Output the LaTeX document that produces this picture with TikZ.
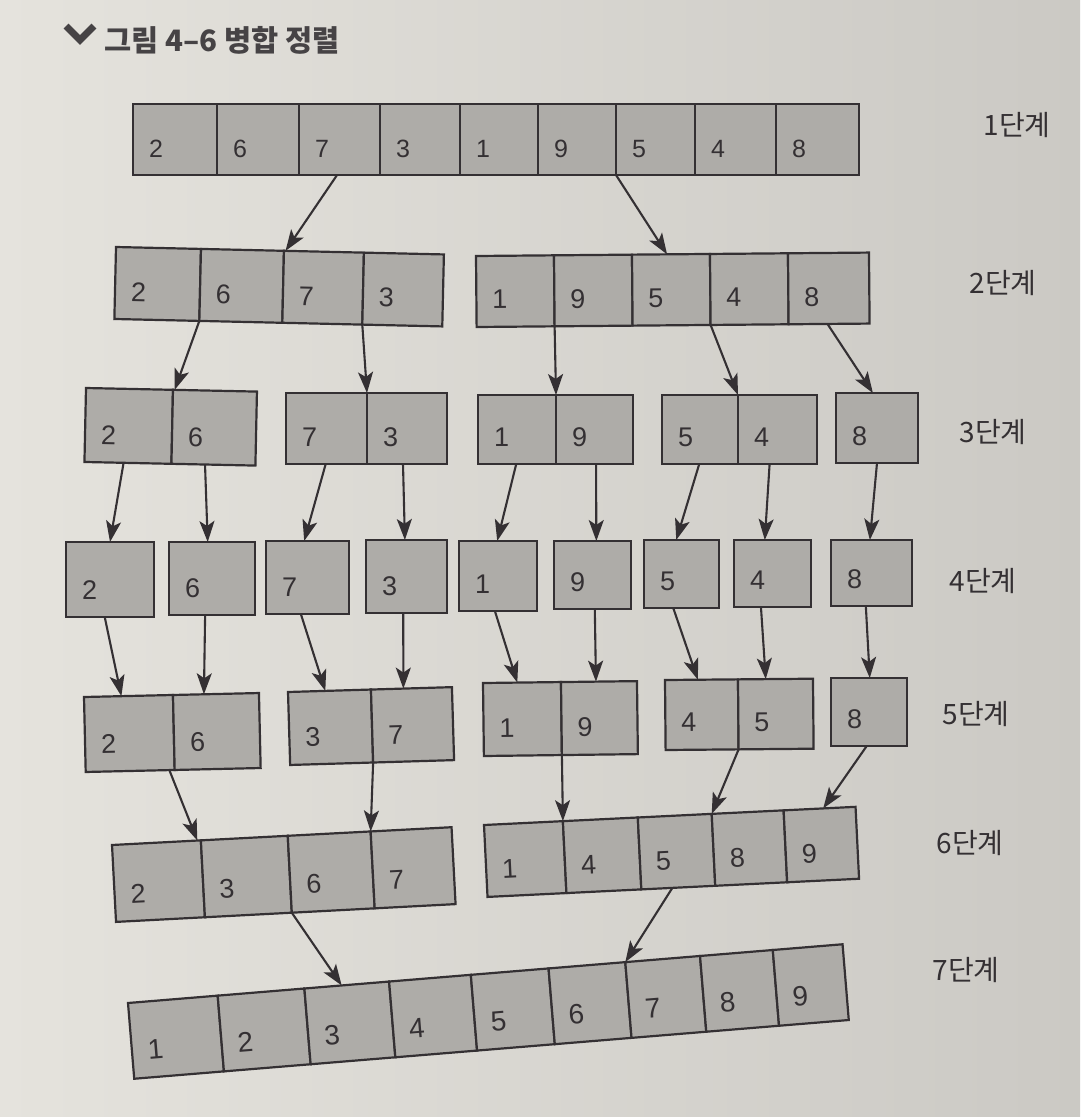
\documentclass[tikz,border=0pt]{standalone}
\usepackage{fontspec}
\setmainfont{Liberation Sans}
\newfontfamily\kr{Noto Sans CJK KR}
\usetikzlibrary{arrows.meta,calc}
\definecolor{ink}{RGB}{52,48,51}
\definecolor{cellfill}{RGB}{174,172,168}
\definecolor{paperL}{RGB}{229,227,221}
\definecolor{paperR}{RGB}{203,201,196}
\definecolor{titleink}{RGB}{70,67,69}
\tikzset{
  cell/.style={draw=ink, fill=cellfill, line width=2.2pt, inner sep=0pt, outer sep=0pt,
    font=\fontsize{27}{31}\selectfont, text=ink},
  arr/.style={draw=ink, line width=2.1pt, -{Stealth[length=21pt,width=15pt,inset=5pt]}},
  steplabel/.style={font=\kr\fontsize{28}{32}\selectfont, text=ink, inner sep=0pt},
}
% #1 extra style, #2 name, #3 x, #4 y (top-left), #5 angle, #6 height, #7 list width/number
\newcommand\grp[7][]{%
  \foreach \cw/\cn [count=\ci] in {#7} {%
    \pgfmathtruncatemacro\cj{\ci-1}%
    \pgfmathsetmacro\ctw{\cw-32}%
    \pgfmathsetmacro\cth{#6-18}%
    \ifnum\ci=1
      \node[cell, #1, rotate=#5, minimum width=\cw pt, minimum height=#6 pt,
        text height=\cth pt, text depth=18pt, anchor=north west] (#2-\ci) at (#3,#4)
        {\makebox[\ctw pt][l]{\cn}};
    \else
      \node[cell, #1, rotate=#5, minimum width=\cw pt, minimum height=#6 pt,
        text height=\cth pt, text depth=18pt, anchor=west] (#2-\ci) at (#2-\cj.east)
        {\makebox[\ctw pt][l]{\cn}};
    \fi
  }%
}
\newcommand\conn[4]{\draw[arr] ($(#1.south west)!#2!(#1.south east)$) -- ($(#3.north west)!#4!(#3.north east)$);}
\begin{document}
\begin{tikzpicture}[x=1pt,y=-1pt]
\shade[left color=paperL, right color=paperR] (0,0) rectangle (1080,1117);
\useasboundingbox (0,0) rectangle (1080,1117);

% title
\draw[titleink, line width=7pt, line join=miter] (66,26) -- (80,40) -- (94,26);
\node[anchor=west, font=\kr\bfseries\fontsize{29.5}{33}\selectfont, text=titleink, inner sep=0pt] (title) at (104,40) {그림 4–6 병합 정렬};

% row 1
\grp[font=\fontsize{25}{29}\selectfont]{r1}{133}{104}{0}{71}{84/2,82/6,81/7,80/3,78/1,78/9,79/5,81/4,83/8}
% row 2
\grp{r2a}{116}{247}{-1.3}{72}{85/2,83/6,80/7,80/3}
\grp{r2b}{476}{256}{0.5}{71}{78/1,78/9,78/5,78/4,81/8}
% row 3
\grp{r3a}{86}{388}{-1.2}{74}{87/2,84/6}
\grp{r3b}{286}{393}{0}{71}{81/7,80/3}
\grp{r3c}{478}{395}{0}{69}{78/1,77/9}
\grp{r3d}{662}{395}{0}{69}{76/5,79/4}
\grp{r3e}{836}{393}{0}{70}{82/8}
% row 4
\grp{r4a}{66}{542}{0}{75}{88/2}
\grp{r4b}{169}{542}{0}{73}{86/6}
\grp{r4c}{266}{541}{0}{73}{83/7}
\grp{r4d}{366}{540}{0}{73}{81/3}
\grp{r4e}{459}{541}{0}{70}{78/1}
\grp{r4f}{554}{541}{0}{68}{77/9}
\grp{r4g}{644}{540}{0}{68}{75/5}
\grp{r4h}{734}{540}{0}{67}{77/4}
\grp{r4i}{831}{540}{0}{66}{81/8}
% row 5
\grp{r5a}{84}{697}{1.3}{75}{89/2,86/6}
\grp{r5b}{288}{692}{1.7}{73}{83/3,81/7}
\grp{r5c}{483}{683}{0.7}{73}{78/1,76/9}
\grp{r5d}{665}{680}{0.5}{70}{73/4,75/5}
\grp{r5e}{831}{678}{0}{68}{76/8}
% row 6
\grp{r6a}{112}{845}{3.0}{77}{89/2,87/3,83/6,81/7}
\grp{r6b}{484}{825}{2.8}{72}{79/1,75/4,74/5,72/8,72/9}
% row 7
\grp[font=\fontsize{28}{32}\selectfont]{r7}{128}{1003}{4.7}{76}{90/1,87/2,85/3,82/4,78/5,77/6,75/7,73/8,70/9}

% step labels
\node[steplabel] (s1) at (1017,125) {1단계};
\node[steplabel] (s2) at (1003,283) {2단계};
\node[steplabel] (s3) at (993,432) {3단계};
\node[steplabel] (s4) at (983,581) {4단계};
\node[steplabel] (s5) at (976,714) {5단계};
\node[steplabel] (s6) at (970,843) {6단계};
\node[steplabel] (s7) at (966,970) {7단계};

% arrows
\conn{r1-3}{0.47}{r2a-3}{0.02}
\conn{r1-7}{0}{r2b-3}{0.45}
\conn{r2a-2}{0}{r3a-2}{0.02}
\conn{r2a-4}{0}{r3b-2}{0}
\conn{r2b-2}{0}{r3c-2}{0}
\conn{r2b-4}{0}{r3d-2}{0}
\conn{r2b-5}{0.48}{r3e-1}{0.45}
\conn{r3a-1}{0.45}{r4a-1}{0.5}
\conn{r3a-2}{0.4}{r4b-1}{0.45}
\conn{r3b-1}{0.49}{r4c-1}{0.46}
\conn{r3b-2}{0.45}{r4d-1}{0.48}
\conn{r3c-1}{0.49}{r4e-1}{0.49}
\conn{r3c-2}{0.52}{r4f-1}{0.55}
\conn{r3d-1}{0.49}{r4g-1}{0.43}
\conn{r3d-2}{0.4}{r4h-1}{0.4}
\conn{r3e-1}{0.5}{r4i-1}{0.48}
\conn{r4a-1}{0.44}{r5a-1}{0.42}
\conn{r4b-1}{0.42}{r5a-2}{0.36}
\conn{r4c-1}{0.42}{r5b-1}{0.45}
\conn{r4d-1}{0.46}{r5b-2}{0.4}
\conn{r4e-1}{0.46}{r5c-1}{0.44}
\conn{r4f-1}{0.53}{r5c-2}{0.46}
\conn{r4g-1}{0.39}{r5d-1}{0.45}
\conn{r4h-1}{0.35}{r5d-2}{0.37}
\conn{r4i-1}{0.43}{r5e-1}{0.51}
\conn{r5a-1}{0.94}{r6a-1}{0.96}
\conn{r5b-2}{0}{r6a-4}{0}
\conn{r5c-2}{0}{r6b-2}{0}
\conn{r5d-2}{0}{r6b-4}{0}
\conn{r5e-1}{0.47}{r6b-5}{0.55}
\conn{r6a-3}{0}{r7-3}{0.44}
\conn{r6b-3}{0.42}{r7-7}{0}
\end{tikzpicture}
\end{document}
